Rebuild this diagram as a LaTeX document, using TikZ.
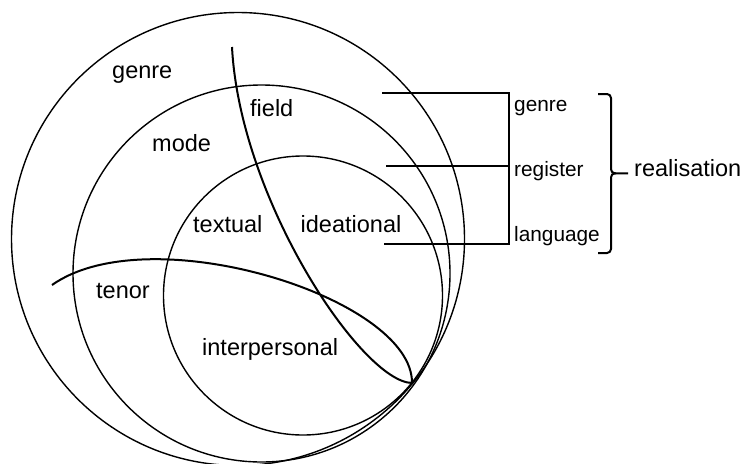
\documentclass[tikz,border=0pt]{standalone}
\usepackage{fontspec}
\setmainfont{Liberation Sans}
\begin{document}
\begin{tikzpicture}[x=1pt,y=-1pt,
  ring/.style={line width=1.4pt},
  strand/.style={line width=2pt},
  rule/.style={line width=2pt},
  bracket/.style={line width=2pt, rounded corners=4pt},
  big/.style={inner sep=0pt, anchor=base west, font=\fontsize{23.5}{28}\selectfont},
  small/.style={inner sep=0pt, anchor=base west, font=\fontsize{20.8}{25}\selectfont}]
\useasboundingbox (0,0) rectangle (743,463);
\clip (0,0) rectangle (743,463);

% nested strata: genre, register, language
\draw[ring] (238,239) circle [radius=226.5];
\draw[ring] (261.5,273.5) circle [radius=188.5];
\draw[ring] (303,295.5) circle [radius=139.5];

% the looping field / tenor strand
\coordinate (fieldtop) at (232,47);
\coordinate (meet) at (412,383);
\coordinate (tenorend) at (52,285);
\draw[strand] (fieldtop) .. controls (240,200) and (362,382) .. (meet)
              .. controls (413,298) and (150,216) .. (tenorend);

% labels inside the strata
\node[big] (genreA) at (112,78) {genre};
\node[big] (field) at (250,116) {field};
\node[big] (mode) at (152,151.7) {mode};
\node[big] (textual) at (193,232) {textual};
\node[big] (ideational) at (300.5,232) {ideational};
\node[big] (tenor) at (96,298.3) {tenor};
\node[big] (interpersonal) at (202,355) {interpersonal};

% stratum rules on the right
\coordinate (g1) at (382,93.3);
\coordinate (gr) at (508.5,93.3);
\coordinate (r1) at (386,166);
\coordinate (rr) at (508.5,166);
\coordinate (l1) at (384,244.3);
\coordinate (lr) at (508.5,244.3);
\draw[rule] (g1) -- (gr) -- (lr) -- (l1);
\draw[rule] (r1) -- (rr);

\node[small] (genreB) at (514,111.5) {genre};
\node[small] (register) at (514,176.7) {register};
\node[small] (language) at (514,241) {language};

% brace gathering the strata
\coordinate (bt) at (598,94);
\coordinate (bb) at (598,253);
\coordinate (bmid) at (611,173.3);
\coordinate (btip) at (628,173.3);
\draw[bracket] (bt) -- (611,94) -- (bmid) -- (btip);
\draw[bracket] (bb) -- (611,253) -- (bmid) -- (616,173.3);

\node[big] (realisation) at (634,176.7) {realisation};
\end{tikzpicture}
\end{document}
